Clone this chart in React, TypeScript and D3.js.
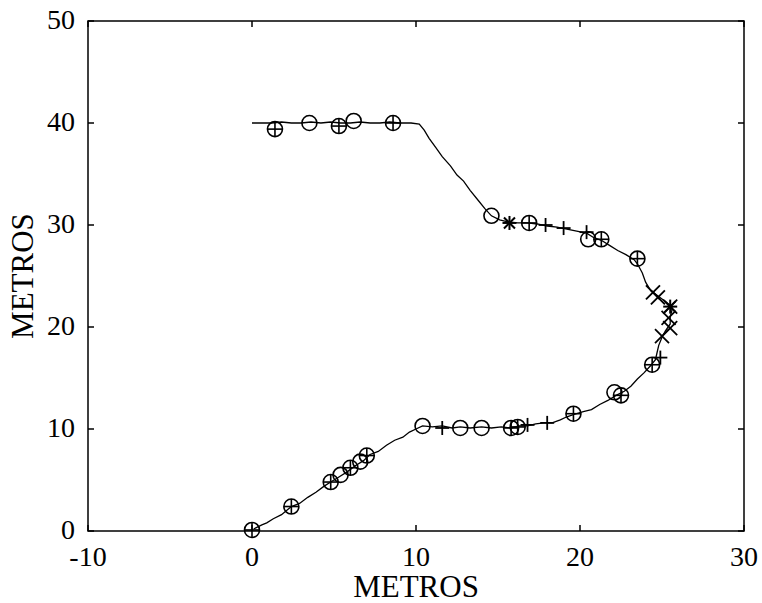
import React from 'react';
import * as d3 from 'd3';

// trayectoria (metros)
const trackX = [0.1, 0.6, 0.9, 1.3, 1.8, 2.4, 2.9, 3.4, 3.9, 4.4, 4.8, 5.3, 5.8, 6.3, 6.8, 7.2, 7.7, 8.2, 8.7, 9.2, 9.6, 10.0, 10.4, 11.0, 11.6, 12.2, 12.7, 13.3, 14.0, 14.6, 15.2, 15.8, 16.3, 16.8, 17.3, 17.8, 18.3, 18.8, 19.2, 19.6, 20.2, 20.7, 21.2, 21.7, 22.2, 22.7, 23.1, 23.5, 23.9, 24.3, 24.6, 24.7, 24.8, 25.0, 25.2, 25.5, 25.5, 25.6, 25.6, 25.2, 24.8, 24.3, 24.0, 23.8, 23.5, 23.3, 22.8, 22.3, 21.8, 21.3, 20.8, 20.4, 19.8, 19.2, 18.6, 18.0, 17.4, 16.8, 16.2, 15.6, 15.1, 14.6, 14.2, 13.8, 13.3, 12.9, 12.5, 12.1, 11.6, 11.2, 10.8, 10.5, 10.2, 9.7, 9.0, 8.4, 7.8, 7.2, 6.6, 6.0, 5.4, 4.8, 4.2, 3.6, 3.0, 2.4, 1.8, 1.2, 0.6, 0.0];
const trackY = [0.2, 0.6, 0.8, 1.2, 1.6, 2.4, 2.7, 3.3, 3.8, 4.4, 4.8, 5.3, 5.8, 6.4, 6.9, 7.5, 7.8, 8.4, 8.9, 9.2, 9.7, 10.0, 10.3, 10.2, 10.3, 10.1, 10.2, 10.1, 10.2, 10.1, 10.2, 10.1, 10.3, 10.3, 10.5, 10.6, 10.6, 10.9, 11.2, 11.4, 11.7, 11.9, 12.4, 12.8, 13.3, 13.7, 14.2, 14.9, 15.5, 16.2, 16.8, 17.5, 18.2, 19.0, 19.6, 20.3, 21.0, 21.6, 22.0, 22.5, 23.0, 23.6, 24.4, 25.3, 26.2, 26.6, 27.1, 27.5, 28.0, 28.5, 28.8, 29.2, 29.4, 29.6, 29.8, 29.9, 30.1, 30.2, 30.2, 30.3, 30.5, 30.9, 31.6, 32.4, 33.4, 34.3, 34.9, 35.8, 36.7, 37.6, 38.5, 39.3, 39.9, 40.0, 40.0, 40.1, 40.0, 40.0, 40.1, 40.0, 40.0, 40.1, 40.0, 40.1, 40.0, 40.0, 40.1, 40.0, 40.0, 40.0];

// marcadores
const circles = [[3.5, 40.0], [6.2, 40.2], [14.6, 30.9], [20.5, 28.6], [22.1, 13.6], [14.0, 10.1], [12.7, 10.1], [10.4, 10.3], [5.4, 5.5], [6.6, 6.8]];
const circlePlus = [[1.4, 39.4], [5.3, 39.7], [8.6, 40.0], [16.9, 30.2], [21.3, 28.6], [23.5, 26.7], [24.4, 16.3], [22.5, 13.3], [19.6, 11.5], [16.2, 10.2], [15.8, 10.1], [0.0, 0.1], [2.4, 2.4], [4.8, 4.8], [6.0, 6.2], [7.0, 7.4]];
const pluses = [[17.9, 30.0], [19.0, 29.7], [20.4, 29.3], [24.9, 17.0], [18.0, 10.6], [16.8, 10.4], [11.6, 10.1]];
const stars = [[15.7, 30.2], [25.5, 22.0]];
const crosses = [[24.45, 23.4], [24.75, 22.9], [25.5, 22.0], [25.4, 20.9], [25.5, 19.9], [25.0, 19.1]];

const xTicks = [-10, 0, 10, 20, 30];
const yTicks = [0, 10, 20, 30, 40, 50];

const font = '"Liberation Serif", "Times New Roman", serif';

export default function App() {
  const width = 762;
  const height = 603;
  const x = d3.scaleLinear().domain([-10, 30]).range([88, 744]);
  const y = d3.scaleLinear().domain([0, 50]).range([531, 21]);

  const line = d3.line<number>()
    .x((d, i) => x(trackX[i]))
    .y((d, i) => y(trackY[i]));

  const r = 7.5;
  const tk = 6;
  const [x0, x1] = x.range();
  const [y0, y1] = y.range();

  return (
    <svg width={width} height={height} style={{ position: 'absolute', left: 0, top: 0, background: '#fff' }}>
      <path d={line(trackX) || ''} fill="none" stroke="#000" strokeWidth={1.3} />

      {circles.map((d, i) => (
        <circle key={'o' + i} cx={x(d[0])} cy={y(d[1])} r={r} fill="none" stroke="#000" strokeWidth={1.6} />
      ))}
      {circlePlus.map((d, i) => (
        <g key={'op' + i} transform={`translate(${x(d[0])},${y(d[1])})`} stroke="#000" strokeWidth={1.6} fill="none">
          <circle r={r} />
          <line x1={-r} x2={r} y1={0} y2={0} />
          <line x1={0} x2={0} y1={-r} y2={r} />
        </g>
      ))}
      {pluses.map((d, i) => (
        <g key={'p' + i} transform={`translate(${x(d[0])},${y(d[1])})`} stroke="#000" strokeWidth={1.8}>
          <line x1={-7} x2={7} y1={0} y2={0} />
          <line x1={0} x2={0} y1={-7} y2={7} />
        </g>
      ))}
      {stars.map((d, i) => (
        <g key={'s' + i} transform={`translate(${x(d[0])},${y(d[1])})`} stroke="#000" strokeWidth={2}>
          <line x1={-7} x2={7} y1={0} y2={0} />
          <line x1={0} x2={0} y1={-7} y2={7} />
          <line x1={-5.5} x2={5.5} y1={-5.5} y2={5.5} />
          <line x1={-5.5} x2={5.5} y1={5.5} y2={-5.5} />
        </g>
      ))}
      {crosses.map((d, i) => (
        <g key={'x' + i} transform={`translate(${x(d[0])},${y(d[1])})`} stroke="#000" strokeWidth={1.8}>
          <line x1={-7} x2={7} y1={-7} y2={7} />
          <line x1={-7} x2={7} y1={7} y2={-7} />
        </g>
      ))}

      {/* caja de ejes */}
      <rect x={x0} y={y1} width={x1 - x0} height={y0 - y1} fill="none" stroke="#000" strokeWidth={1.5} />
      {xTicks.map(t => (
        <g key={'xt' + t}>
          <line x1={x(t)} x2={x(t)} y1={y0} y2={y0 - tk} stroke="#000" strokeWidth={1.5} />
          <line x1={x(t)} x2={x(t)} y1={y1} y2={y1 + tk} stroke="#000" strokeWidth={1.5} />
          <text x={x(t)} y={566} textAnchor="middle" fontFamily={font} fontSize={28}>{t}</text>
        </g>
      ))}
      {yTicks.map(t => (
        <g key={'yt' + t}>
          <line x1={x0} x2={x0 + tk} y1={y(t)} y2={y(t)} stroke="#000" strokeWidth={1.5} />
          <line x1={x1} x2={x1 - tk} y1={y(t)} y2={y(t)} stroke="#000" strokeWidth={1.5} />
          <text x={75} y={y(t) + 8} textAnchor="end" fontFamily={font} fontSize={28}>{t}</text>
        </g>
      ))}

      <text x={(x0 + x1) / 2} y={597} textAnchor="middle" fontFamily={font} fontSize={31}>METROS</text>
      <text transform={`translate(33,${(y0 + y1) / 2}) rotate(-90)`} textAnchor="middle" fontFamily={font} fontSize={31}>METROS</text>
    </svg>
  );
}
